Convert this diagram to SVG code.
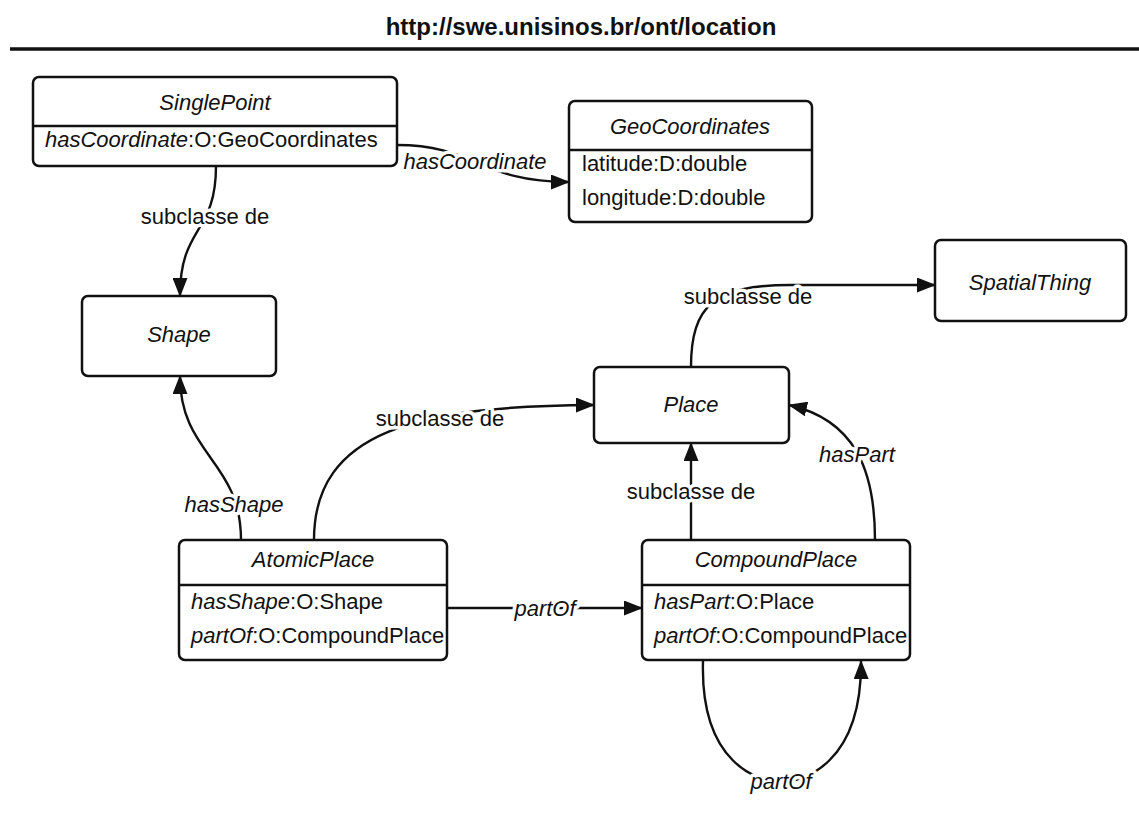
<svg xmlns="http://www.w3.org/2000/svg" width="1139" height="823" viewBox="0 0 1139 823">
  <style>
    .box { fill: #fff; stroke: #111; stroke-width: 2.5; }
    .div { stroke: #111; stroke-width: 2.5; }
    .t { font-family: "Liberation Sans", Arial, sans-serif; font-size: 22px; fill: #111; }
    .i { font-style: italic; }
    .c { text-anchor: middle; }
    .edge { fill: none; stroke: #111; stroke-width: 2.4; }
    .lbl { font-family: "Liberation Sans", Arial, sans-serif; font-size: 22px; fill: #111; text-anchor: middle; paint-order: stroke; stroke: #fff; stroke-width: 7; stroke-linejoin: round; }
  </style>
  <defs>
    <marker id="arrow" viewBox="0 0 19 15" refX="18" refY="7.5" markerWidth="19" markerHeight="15" markerUnits="userSpaceOnUse" orient="auto">
      <path d="M0,0 L19,7.5 L0,15 Z" fill="#111"/>
    </marker>
  </defs>

  <rect width="1139" height="823" fill="#fff"/>

  <!-- header -->
  <text x="581" y="35" font-family="Liberation Sans, Arial, sans-serif" font-size="24" font-weight="bold" text-anchor="middle" fill="#111">http://swe.unisinos.br/ont/location</text>
  <line x1="10" y1="49" x2="1139" y2="49" stroke="#111" stroke-width="3.5"/>

  <!-- connectors -->
  <g id="connectors">
    <path class="edge" d="M397,145 C475,145 480,182 569,182" marker-end="url(#arrow)"/>
    <text class="lbl i" x="475" y="169">hasCoordinate</text>

    <path class="edge" d="M216,166 C216,235 180,225 180,296" marker-end="url(#arrow)"/>
    <text class="lbl" x="205" y="224">subclasse de</text>

    <path class="edge" d="M241,540 C241,460 180,455 180,376" marker-end="url(#arrow)"/>
    <text class="lbl i" x="234" y="512">hasShape</text>

    <path class="edge" d="M314,540 C314,430 420,406 594,405" marker-end="url(#arrow)"/>
    <text class="lbl" x="440" y="426">subclasse de</text>

    <path class="edge" d="M691,367 C691,305 715,285 790,285 L935,285" marker-end="url(#arrow)"/>
    <text class="lbl" x="748" y="304">subclasse de</text>

    <path class="edge" d="M691,540 L691,443" marker-end="url(#arrow)"/>
    <text class="lbl" x="691" y="499">subclasse de</text>

    <path class="edge" d="M875,540 C875,470 855,420 789,405" marker-end="url(#arrow)"/>
    <text class="lbl i" x="857" y="462">hasPart</text>

    <path class="edge" d="M447,608 L642,608" marker-end="url(#arrow)"/>
    <text class="lbl i" x="545" y="616">partOf</text>

    <path class="edge" d="M703,661 C700,765 760,782 781,782 C802,782 862,765 861,661" marker-end="url(#arrow)"/>
    <text class="lbl i" x="781" y="789">partOf</text>
  </g>

  <!-- nodes -->
  <g id="SinglePoint">
    <rect class="box" x="33" y="77" width="364" height="89" rx="6"/>
    <line class="div" x1="33" y1="126" x2="397" y2="126"/>
    <text class="t i c" x="215" y="110">SinglePoint</text>
    <text class="t" x="45" y="147"><tspan class="i">hasCoordinate</tspan>:O:GeoCoordinates</text>
  </g>

  <g id="GeoCoordinates">
    <rect class="box" x="569" y="101" width="243" height="121" rx="6"/>
    <line class="div" x1="569" y1="150" x2="812" y2="150"/>
    <text class="t i c" x="690" y="134">GeoCoordinates</text>
    <text class="t" x="582" y="171">latitude:D:double</text>
    <text class="t" x="582" y="205">longitude:D:double</text>
  </g>

  <g id="Shape">
    <rect class="box" x="82" y="296" width="194" height="80" rx="6"/>
    <text class="t i c" x="179" y="342">Shape</text>
  </g>

  <g id="SpatialThing">
    <rect class="box" x="935" y="240" width="191" height="81" rx="6"/>
    <text class="t i c" x="1030" y="290">SpatialThing</text>
  </g>

  <g id="Place">
    <rect class="box" x="594" y="367" width="195" height="76" rx="6"/>
    <text class="t i c" x="691" y="412">Place</text>
  </g>

  <g id="AtomicPlace">
    <rect class="box" x="179" y="540" width="268" height="120" rx="6"/>
    <line class="div" x1="179" y1="585" x2="447" y2="585"/>
    <text class="t i c" x="313" y="567">AtomicPlace</text>
    <text class="t" x="191" y="609"><tspan class="i">hasShape</tspan>:O:Shape</text>
    <text class="t" x="191" y="643"><tspan class="i">partOf</tspan>:O:CompoundPlace</text>
  </g>

  <g id="CompoundPlace">
    <rect class="box" x="642" y="540" width="268" height="120" rx="6"/>
    <line class="div" x1="642" y1="585" x2="910" y2="585"/>
    <text class="t i c" x="776" y="567">CompoundPlace</text>
    <text class="t" x="654" y="609"><tspan class="i">hasPart</tspan>:O:Place</text>
    <text class="t" x="654" y="643"><tspan class="i">partOf</tspan>:O:CompoundPlace</text>
  </g>
</svg>
